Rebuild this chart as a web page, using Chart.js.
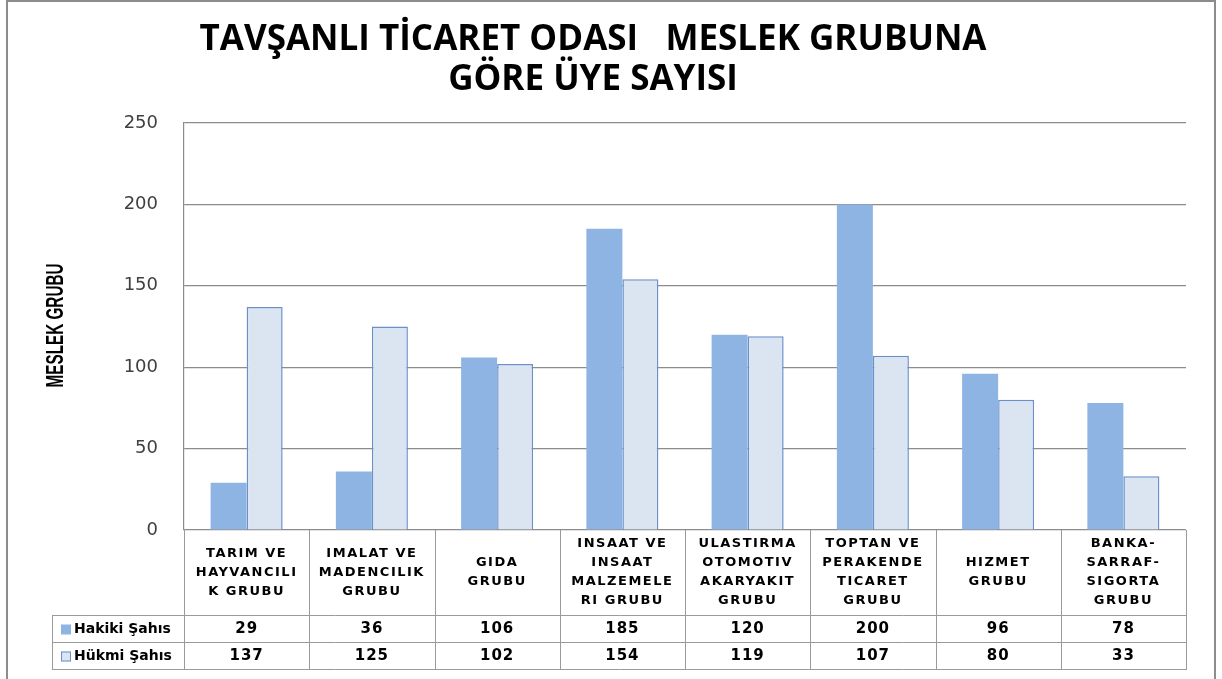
<!DOCTYPE html>
<html lang="tr">
<head>
    <meta charset="UTF-8">
    <title>Tavşanlı Ticaret Odası - Meslek Grubuna Göre Üye Sayısı</title>
    <script src="https://cdn.jsdelivr.net/npm/chart.js"></script>
    <style>
        body { margin: 0; background-color: #fff; }
        canvas { display: block; }
    </style>
</head>
<body>
    <canvas id="barChart" width="1222" height="679"></canvas>

    <script>
        // data
        const categories = [
            ['TARIM VE', 'HAYVANCILI', 'K GRUBU'],
            ['IMALAT VE', 'MADENCILIK', 'GRUBU'],
            ['GIDA', 'GRUBU'],
            ['INSAAT VE', 'INSAAT', 'MALZEMELE', 'RI GRUBU'],
            ['ULASTIRMA', 'OTOMOTIV', 'AKARYAKIT', 'GRUBU'],
            ['TOPTAN VE', 'PERAKENDE', 'TICARET', 'GRUBU'],
            ['HIZMET', 'GRUBU'],
            ['BANKA-', 'SARRAF-', 'SIGORTA', 'GRUBU']
        ];
        const hakikiSahis = [29, 36, 106, 185, 120, 200, 96, 78];
        const hukmiSahis = [137, 125, 102, 154, 119, 107, 80, 33];
        const seriesNames = ['Hakiki Şahıs', 'Hükmi Şahıs'];
        const titleLines = ['TAVŞANLI TİCARET ODASI   MESLEK GRUBUNA', 'GÖRE ÜYE SAYISI'];
        const yAxisTitle = 'MESLEK GRUBU';

        const hakikiColor = '#8EB4E3';
        const hukmiColor = '#DBE5F1';
        const hukmiBorder = '#6A8FCA';
        const lineGray = '#9a9a9a';

        // outer frame + y title + data table under the plot
        const tablePlugin = {
            id: 'dataTable',
            afterDraw(chart) {
                const ctx = chart.ctx;
                const area = chart.chartArea;
                const x = chart.scales.x;
                const colW = (area.right - area.left) / categories.length;
                const headBottom = 615, row1Bottom = 642, row2Bottom = 669, legLeft = 52;

                ctx.save();
                // frame
                ctx.strokeStyle = '#8c8c8c';
                ctx.lineWidth = 2;
                ctx.beginPath();
                ctx.moveTo(7, 679); ctx.lineTo(7, 1); ctx.lineTo(1215, 1); ctx.lineTo(1215, 679);
                ctx.stroke();

                // y title (narrow, like the original)
                ctx.save();
                ctx.translate(57, (area.top + area.bottom) / 2 - 1);
                ctx.rotate(-Math.PI / 2);
                ctx.font = 'bold 23px "Liberation Sans", sans-serif';
                const tw = ctx.measureText(yAxisTitle).width;
                ctx.scale(124 / tw, 1);
                ctx.fillStyle = '#000';
                ctx.textAlign = 'center';
                ctx.textBaseline = 'middle';
                ctx.fillText(yAxisTitle, 0, 0);
                ctx.restore();

                // table grid
                ctx.strokeStyle = lineGray;
                ctx.lineWidth = 1;
                ctx.beginPath();
                for (let i = 0; i <= categories.length; i++) {
                    const cx = Math.round(area.left + i * colW) + 0.5;
                    ctx.moveTo(cx, area.bottom); ctx.lineTo(cx, row2Bottom);
                }
                ctx.moveTo(legLeft + 0.5, headBottom); ctx.lineTo(legLeft + 0.5, row2Bottom);
                [headBottom, row1Bottom, row2Bottom].forEach(y => {
                    ctx.moveTo(legLeft, y + 0.5); ctx.lineTo(area.right + 1, y + 0.5);
                });
                ctx.stroke();

                ctx.fillStyle = '#000';
                ctx.textAlign = 'center';
                ctx.textBaseline = 'middle';

                // category headers
                ctx.font = 'bold 13px "DejaVu Sans", sans-serif';
                ctx.letterSpacing = '1.5px';
                const headMid = (area.bottom + headBottom) / 2;
                categories.forEach((lines, i) => {
                    const cx = x.getPixelForValue(i);
                    const y0 = headMid - (lines.length - 1) * 19 / 2;
                    lines.forEach((t, j) => ctx.fillText(t, cx, y0 + j * 19));
                });

                // values
                ctx.font = 'bold 15px "DejaVu Sans", sans-serif';
                ctx.letterSpacing = '1px';
                const rows = [hakikiSahis, hukmiSahis];
                const rowMid = [(headBottom + row1Bottom) / 2 + 1, (row1Bottom + row2Bottom) / 2 + 1];
                rows.forEach((vals, r) => {
                    vals.forEach((v, i) => ctx.fillText(String(v), x.getPixelForValue(i), rowMid[r]));
                });

                // legend keys
                ctx.letterSpacing = '0px';
                ctx.textAlign = 'left';
                ctx.font = 'bold 14px "DejaVu Sans", sans-serif';
                chart.data.datasets.forEach((ds, r) => {
                    const y = rowMid[r];
                    ctx.fillStyle = ds.backgroundColor;
                    ctx.fillRect(61, y - 5, 10, 10);
                    if (ds.borderWidth) {
                        ctx.strokeStyle = ds.borderColor;
                        ctx.lineWidth = 1;
                        ctx.strokeRect(61.5, y - 4.5, 9, 9);
                    }
                    ctx.fillStyle = '#000';
                    ctx.fillText(seriesNames[r], 74, y);
                });
                ctx.restore();
            }
        };

        const ctxBar = document.getElementById('barChart').getContext('2d');

        let barChart = new Chart(ctxBar, {
            type: 'bar',
            data: {
                labels: categories,
                datasets: [{
                    label: seriesNames[0],
                    data: hakikiSahis,
                    backgroundColor: hakikiColor,
                    borderWidth: 0
                }, {
                    label: seriesNames[1],
                    data: hukmiSahis,
                    backgroundColor: hukmiColor,
                    borderColor: hukmiBorder,
                    borderWidth: 1.5
                }]
            },
            options: {
                responsive: false,
                animation: false,
                devicePixelRatio: 1,
                categoryPercentage: 0.575,
                barPercentage: 1,
                layout: {
                    padding: { left: 0, right: 36, top: 0, bottom: 149 }
                },
                scales: {
                    x: {
                        display: false
                    },
                    y: {
                        min: 0,
                        max: 250,
                        ticks: {
                            stepSize: 50,
                            padding: 26,
                            color: '#404040',
                            font: { family: 'DejaVu Sans', size: 18 }
                        },
                        grid: {
                            color: '#8c8c8c',
                            lineWidth: 1.2,
                            drawTicks: false
                        },
                        border: { color: '#8c8c8c', width: 1.2 },
                        afterFit: s => { s.width = 184; }
                    }
                },
                plugins: {
                    legend: { display: false },
                    tooltip: { enabled: false },
                    title: {
                        display: true,
                        text: titleLines,
                        color: '#000',
                        font: { family: 'Open Sans', size: 35, weight: 'bold', lineHeight: 1.15 },
                        padding: { top: 20, bottom: 22.5 }
                    }
                }
            },
            plugins: [tablePlugin]
        });
    </script>
</body>
</html>
